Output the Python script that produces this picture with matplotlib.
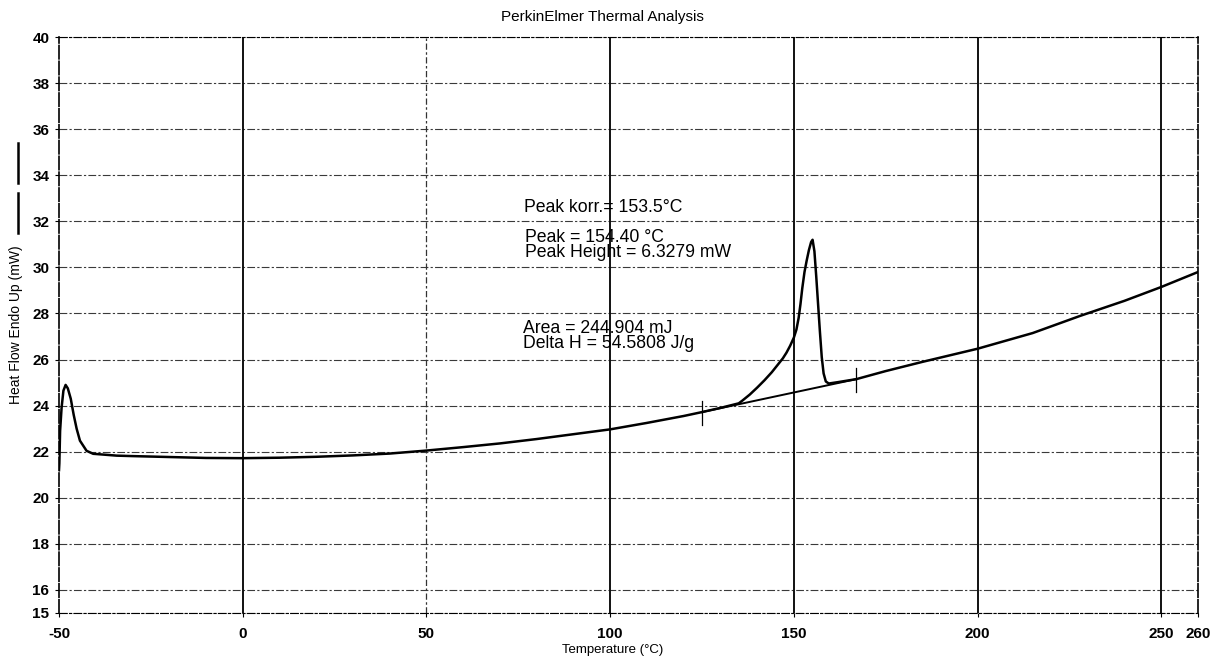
import matplotlib
matplotlib.use("Agg")
import matplotlib.pyplot as plt
import numpy as np

# ---- data ----
temp = [-50, -49.9, -49.7, -49.3, -48.8, -48.2, -47.6, -46.8, -46.0, -45.2, -44.3, -42.5,
        -40.7, -34.3, -30, -20, -10, 0, 10, 20, 30, 40, 50, 60, 70, 80, 90, 100,
        110, 120, 125, 130, 135, 136, 138, 140, 142, 144, 145.5, 147, 148, 149, 150,
        150.7, 151.3, 151.8, 152.3, 152.9, 153.5, 154.1, 154.7, 155.1, 155.6, 156.1,
        156.6, 157.1, 157.6, 158.1, 158.7, 159.5, 162, 167, 175, 185, 200, 215, 228,
        240, 250, 260]
heat_flow = [21.2, 21.5, 22.9, 23.9, 24.65, 24.9, 24.75, 24.3, 23.6, 23.0, 22.48, 22.04,
             21.91, 21.83, 21.81, 21.77, 21.73, 21.72, 21.74, 21.78, 21.84, 21.92, 22.05,
             22.2, 22.36, 22.55, 22.76, 22.97, 23.25, 23.55, 23.72, 23.9, 24.1, 24.22,
             24.48, 24.78, 25.1, 25.45, 25.75, 26.05, 26.3, 26.6, 26.95, 27.3, 27.8, 28.4,
             29.1, 29.8, 30.3, 30.75, 31.1, 31.2, 30.7, 29.6, 28.4, 27.2, 26.1, 25.4,
             25.05, 24.96, 25.02, 25.15, 25.5, 25.9, 26.47, 27.15, 27.9, 28.55, 29.15, 29.8]

baseline_t = [125, 167]
baseline_v = [23.72, 25.15]

x_ticks = [-50, 0, 50, 100, 150, 200, 250, 260]
x_ticklabels = ["-50", "0", "50", "100", "150", "200", "250", "260"]
y_ticks = [15, 16, 18, 20, 22, 24, 26, 28, 30, 32, 34, 36, 38, 40]
y_ticklabels = ["15", "16", "18", "20", "22", "24", "26", "28", "30", "32", "34", "36", "38", "40"]

annotations = [
    (76.5, 32.6, "Peak korr.= 153.5\u00b0C"),
    (76.8, 31.3, "Peak = 154.40 \u00b0C"),
    (76.8, 30.65, "Peak Height = 6.3279 mW"),
    (76.2, 27.35, "Area = 244.904 mJ"),
    (76.2, 26.7, "Delta H = 54.5808 J/g"),
]

plt.rcParams['font.family'] = ['Liberation Sans', 'DejaVu Sans']

fig = plt.figure(figsize=(12.16, 6.64), dpi=100)
ax = fig.add_axes([59 / 1216, 1 - 613 / 664, (1198 - 59) / 1216, (613 - 37) / 664])

ax.set_xlim(-50, 260)
ax.set_ylim(15, 40)

# grid
for yv in y_ticks:
    ax.axhline(yv, color='#3a3a3a', lw=0.8, ls=(0, (7, 2, 2, 2)), zorder=1)
for xv in x_ticks:
    if xv in (-50, 260):
        continue
    if xv == 50:
        ax.axvline(xv, color='#333333', lw=0.9, ls=(0, (5, 2, 2, 2)), zorder=1)
    else:
        ax.axvline(xv, color='#111111', lw=1.4, ls='-', zorder=1)

ax.plot(temp, heat_flow, color='black', lw=1.8, zorder=3)
ax.plot(baseline_t, baseline_v, color='black', lw=1.4, zorder=3)
# baseline limit markers
for bt, bv in zip(baseline_t, baseline_v):
    ax.plot([bt, bt], [bv - 0.55, bv + 0.5], color='black', lw=0.9, zorder=3)

for tx, ty, s in annotations:
    ax.text(tx, ty, s, fontsize=12.7, ha='left', va='center', color='black', zorder=4)

ax.set_xticks(x_ticks)
ax.set_xticklabels(x_ticklabels)
ax.set_yticks(y_ticks)
ax.set_yticklabels(y_ticklabels)
ax.tick_params(axis='both', labelsize=11, length=3, width=0.8, color='black', direction='out')
ax.tick_params(axis='x', pad=7)
ax.tick_params(axis='y', pad=4)
for lab in ax.get_xticklabels() + ax.get_yticklabels():
    lab.set_fontweight('bold')

for side in ['left', 'right']:
    ax.spines[side].set_linewidth(1.2)
    ax.spines[side].set_linestyle((0, (8, 1.5)))
for side in ['top', 'bottom']:
    ax.spines[side].set_linewidth(0.8)
    ax.spines[side].set_linestyle((0, (7, 2, 2, 2)))

fig.text(602 / 1216, 1 - 17 / 664, "PerkinElmer Thermal Analysis", fontsize=11,
         ha='center', va='center')
fig.text(613 / 1216, 1 - 650 / 664, "Temperature (\u00b0C)", fontsize=9.5,
         ha='center', va='center')
fig.text(16 / 1216, 1 - 325 / 664, "Heat Flow Endo Up (mW)", fontsize=10,
         ha='center', va='center', rotation=90)

# legend marks at the left edge
fig.add_artist(plt.Line2D([18 / 1216, 18 / 1216], [1 - 143 / 664, 1 - 183 / 664],
                          color='black', lw=1.8, transform=fig.transFigure))
fig.add_artist(plt.Line2D([18 / 1216, 18 / 1216], [1 - 193 / 664, 1 - 233 / 664],
                          color='black', lw=1.8, transform=fig.transFigure))

fig.savefig("out.png", dpi=100, facecolor='white')
